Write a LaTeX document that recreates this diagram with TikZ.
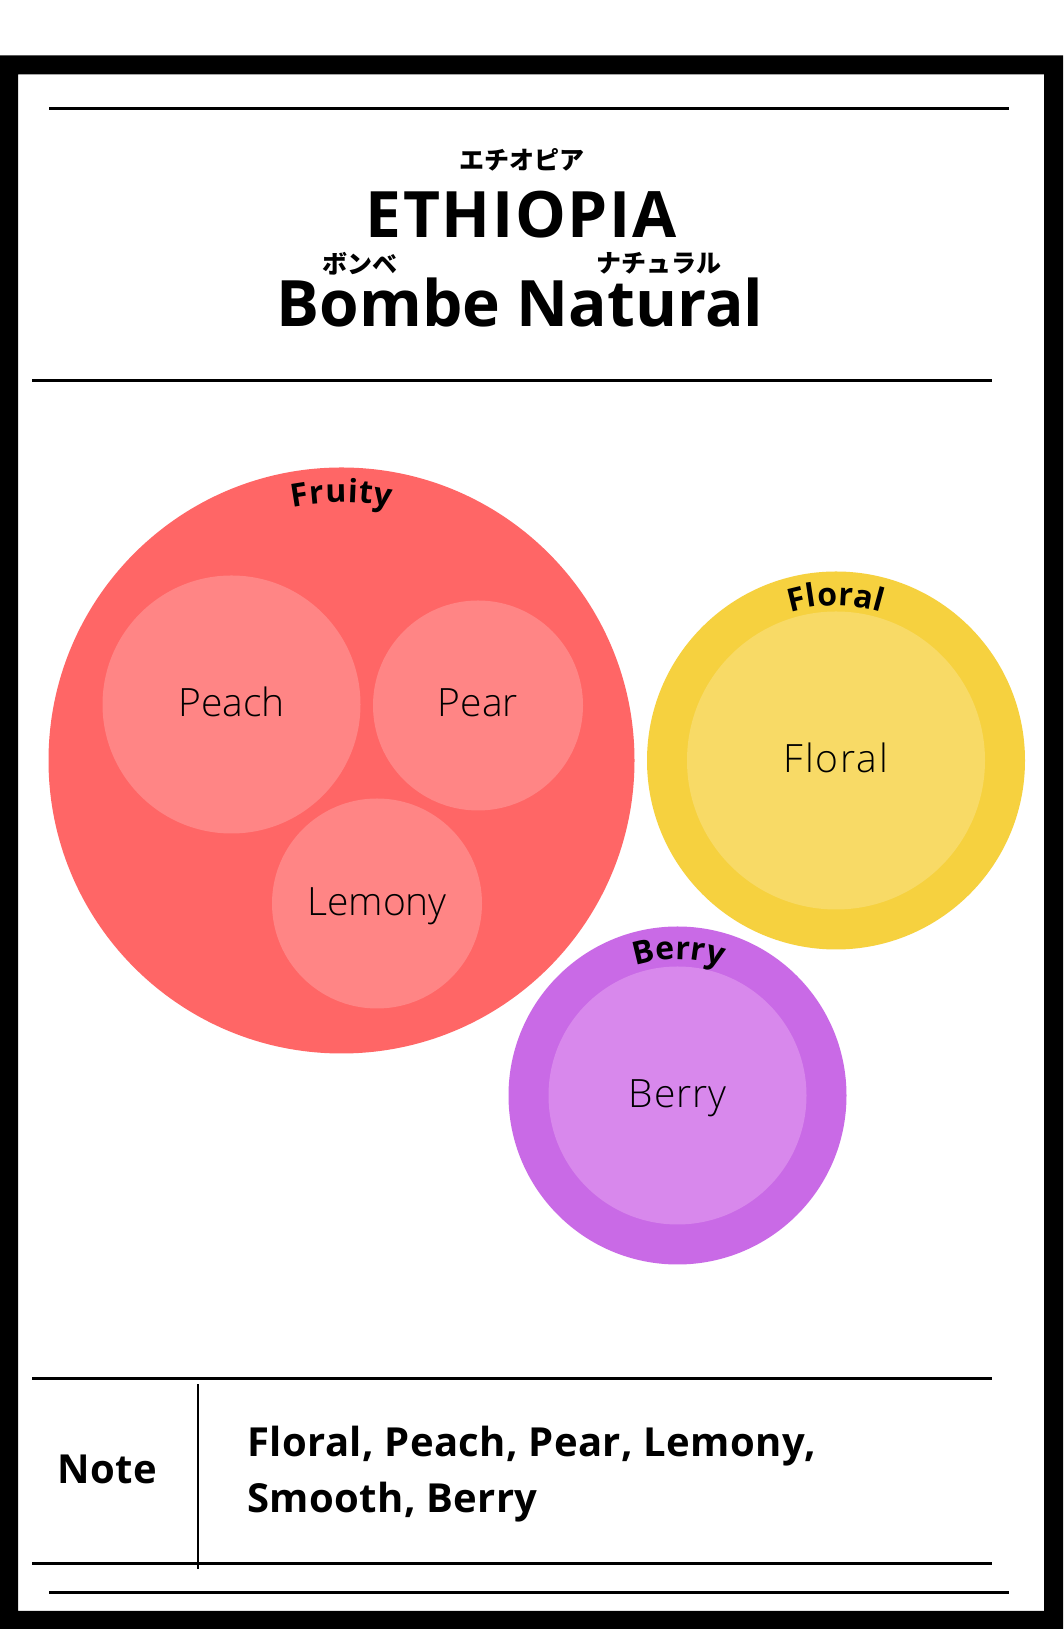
\documentclass[tikz,border=0pt]{standalone}
\usepackage{fontspec}
\usetikzlibrary{decorations.text}
\setmainfont{Noto Sans CJK JP}
\newfontfamily\latb{Open Sans}[BoldFont={Open Sans Bold}]
\newfontfamily\lite{Open Sans Light}
\definecolor{fruitO}{HTML}{FF6666}
\definecolor{fruitI}{HTML}{FF8585}
\definecolor{florO}{HTML}{F6D13F}
\definecolor{florI}{HTML}{F8DA66}
\definecolor{berrO}{HTML}{C96AE6}
\definecolor{berrI}{HTML}{D888EC}
\tikzset{
  rule/.style={line width=3pt},
  blob/.style={circle,inner sep=0pt,outer sep=0pt,text=black,font=\lite\fontsize{39}{39}\selectfont},
  title/.style={anchor=base,inner sep=0pt,font=\latb\bfseries\fontsize{64}{64}\selectfont},
  kana/.style={inner sep=0pt,font=\bfseries\fontsize{25}{25}\selectfont},
  notes/.style={inner sep=0pt,font=\latb\bfseries\fontsize{40}{40}\selectfont\addfontfeature{LetterSpace=1}},
  curved/.style={decorate,decoration={text along path,text align={fit to path},text={|\latb\bfseries\fontsize{32}{32}\selectfont|#1}}}
}
\begin{document}
\begin{tikzpicture}[x=1pt,y=1pt]
\useasboundingbox (0,0) rectangle (1063,1630);
\fill[white] (0,0) rectangle (1063,1630);
\fill[black,even odd rule] (0,1) rectangle (1063,1574.5) (18,19) rectangle (1044,1555.5);
\draw[rule] (49,1521.5) -- (1009,1521.5);
\draw[rule] (32,1249.5) -- (992,1249.5);
\draw[rule] (32,251.5) -- (992,251.5);
\draw[rule] (32,66.5) -- (992,66.5);
\draw[rule] (49,37.5) -- (1009,37.5);
\draw[line width=2pt] (198,245.5) -- (198,61);
\node[kana] (kana1) at (522,1470) {エチオピア};
\node[title] (title1) at (521,1392.5) {\addfontfeature{LetterSpace=2.5}ETHIOPIA};
\node[kana] (kana2) at (360,1366.5) {ボンベ};
\node[kana] (kana3) at (659,1366.5) {ナチュラル};
\node[title] (title2) at (520,1303.5) {Bombe Natural};
\node[blob,fill=fruitO,minimum size=586pt] (fruity) at (341.5,869.5) {};
\node[blob,fill=fruitI,minimum size=258pt] (peach) at (231.5,925.5) {};
\node[blob,fill=fruitI,minimum size=210pt] (pear) at (478,924.5) {};
\node[blob,fill=fruitI,minimum size=210pt] (lemony) at (377,726.5) {};
\node[blob,fill=florO,minimum size=378pt] (floralO) at (836,869.5) {};
\node[blob,fill=florI,minimum size=298pt] (floralI) at (836,869.5) {};
\node[blob,fill=berrO,minimum size=338pt] (berryO) at (677.5,534.5) {};
\node[blob,fill=berrI,minimum size=258pt] (berryI) at (677.5,534.5) {};
\node[blob,anchor=base] (tpeach) at (231.5,913) {Peach};
\node[blob,anchor=base] (tpear) at (478,913) {Pear};
\node[blob,anchor=base] (tlemony) at (377,714) {Lemony};
\node[blob,anchor=base] (tfloral) at (836,857) {\addfontfeature{LetterSpace=5}Floral};
\node[blob,anchor=base] (tberry) at (677.5,522) {\addfontfeature{LetterSpace=2}Berry};
\path[curved=Fruity] ([shift={(101:258pt)}]fruity.center) arc[start angle=101,end angle=79,radius=258pt];
\path[curved=Floral] ([shift={(107:155pt)}]floralO.center) arc[start angle=107,end angle=73,radius=155pt];
\path[curved=Berry] ([shift={(108:136pt)}]berryO.center) arc[start angle=108,end angle=72,radius=136pt];
\node[notes,anchor=base west] (note) at (57,146.5) {Note};
\node[notes,anchor=base west] (n1) at (247,173.5) {Floral, Peach, Pear, Lemony,};
\node[notes,anchor=base west] (n2) at (247,117.5) {Smooth, Berry};
\end{tikzpicture}
\end{document}
